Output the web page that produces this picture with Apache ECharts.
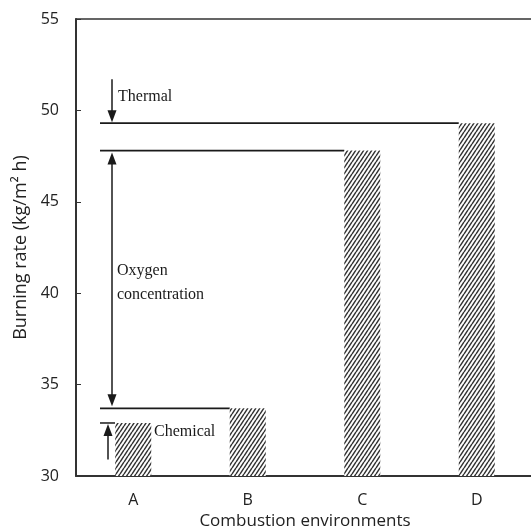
<!DOCTYPE html>
<html><head><meta charset="utf-8">
<script src="https://cdn.jsdelivr.net/npm/echarts@6/dist/echarts.min.js"></script>
<style>html,body{margin:0;padding:0;background:#fff}#c{width:531px;height:531px}</style>
</head><body><div id="c"></div>
<script>
const categories = ['A', 'B', 'C', 'D'];
const burningRate = [32.9, 33.7, 47.8, 49.3];
const yTicks = [30, 35, 40, 45, 50, 55];
const labelThermal = 'Thermal';
const labelOxygen = ['Oxygen', 'concentration'];
const labelChemical = 'Chemical';

function hatch() {
  const w = 4, h = 6, c = document.createElement('canvas');
  c.width = w; c.height = h;
  const g = c.getContext('2d');
  g.fillStyle = '#fff'; g.fillRect(0, 0, w, h);
  g.strokeStyle = '#333'; g.lineWidth = 1.5;
  g.beginPath();
  for (let k = -1; k <= 1; k++) {
    g.moveTo(k * w, h); g.lineTo(k * w + w, 0);
  }
  g.stroke();
  return c;
}

const chart = echarts.init(document.getElementById('c'));
const axisCol = '#333';
const txtCol = '#222';
const sans = 'Open Sans';
chart.setOption({
  animation: false,
  grid: { left: 76, top: 19, width: 458, height: 457, outerBoundsMode: 'none', containLabel: false },
  xAxis: [{
    type: 'category', data: categories,
    axisLine: { lineStyle: { color: axisCol, width: 2 } },
    axisTick: { show: false },
    axisLabel: { color: txtCol, fontFamily: sans, fontSize: 16, margin: 16 },
    name: 'Combustion environments', nameLocation: 'middle', nameGap: 37,
    nameTextStyle: { color: txtCol, fontFamily: sans, fontSize: 17 }
  }, {
    type: 'category', data: categories, position: 'top',
    axisLine: { show: true, lineStyle: { color: axisCol, width: 1.5 } },
    axisTick: { show: false }, axisLabel: { show: false }
  }],
  yAxis: {
    type: 'value', min: yTicks[0], max: yTicks[yTicks.length - 1], interval: yTicks[1] - yTicks[0],
    axisLine: { show: true, lineStyle: { color: axisCol, width: 2 } },
    axisTick: { show: true, inside: true, length: 5, lineStyle: { color: axisCol } },
    splitLine: { show: false },
    axisLabel: { color: txtCol, fontFamily: sans, fontSize: 16, margin: 17 },
    name: 'Burning rate (kg/m\u00b2 h)', nameLocation: 'middle', nameGap: 46,
    nameTextStyle: { color: txtCol, fontFamily: sans, fontSize: 18 }
  },
  series: [{
    type: 'bar', data: burningRate, barWidth: 36,
    itemStyle: { color: { image: hatch(), repeat: 'repeat' } }
  }]
});

function drawAnnotations() {
  const px = (i, v) => chart.convertToPixel({ seriesIndex: 0 }, [i, v]);
  const y = v => px(0, v)[1];
  const barLeft = i => px(i, burningRate[i])[0] - 18;
  const x0 = 100, ax = 112, cx = 108;
  const col = '#1a1a1a';
  const els = [];
  const hline = (v, xEnd) => els.push({ type: 'line', shape: { x1: x0, y1: y(v), x2: xEnd, y2: y(v) }, style: { stroke: col, lineWidth: 1.8 } });
  hline(burningRate[3], barLeft(3));
  hline(burningRate[2], barLeft(2));
  hline(burningRate[1], barLeft(1));
  const head = (x, yTip, dir) => els.push({ type: 'polygon', shape: { points: [[x, yTip], [x - 4.5, yTip - dir * 12], [x + 4.5, yTip - dir * 12]] }, style: { fill: col } });
  const vline = (x, y1, y2) => els.push({ type: 'line', shape: { x1: x, y1: y1, x2: x, y2: y2 }, style: { stroke: col, lineWidth: 1.5 } });
  vline(ax, y(51.7), y(burningRate[3]) - 8);
  head(ax, y(burningRate[3]) - 1, 1);
  vline(ax, y(burningRate[2]) + 8, y(burningRate[1]) - 8);
  head(ax, y(burningRate[2]) + 2, -1);
  head(ax, y(burningRate[1]) - 2, 1);
  vline(cx, y(30.9), y(burningRate[0]) + 8);
  head(cx, y(burningRate[0]) + 1, -1);
  els.push({ type: 'line', shape: { x1: 100, y1: y(burningRate[0]), x2: 115, y2: y(burningRate[0]) }, style: { stroke: col, lineWidth: 1.5 } });
  const font = '16px "Liberation Serif"';
  const txt = (x, yy, t) => els.push({ type: 'text', x: x, y: yy, style: { text: t, font: font, fill: col, verticalAlign: 'middle', textVerticalAlign: 'middle' } });
  txt(118, y(50.75), labelThermal);
  txt(117, y(41.25), labelOxygen[0]);
  txt(117, y(39.9), labelOxygen[1]);
  txt(154, y(32.4), labelChemical);
  chart.setOption({ graphic: els });
}
drawAnnotations();
</script>
</body></html>
